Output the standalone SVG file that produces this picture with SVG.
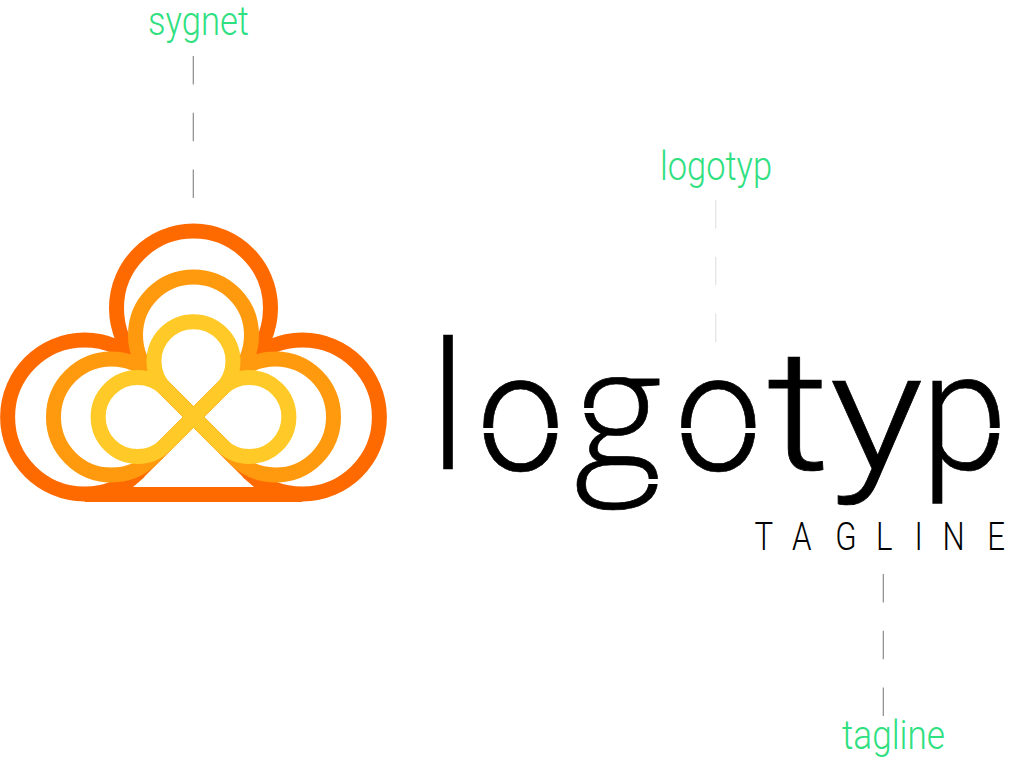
<svg xmlns="http://www.w3.org/2000/svg" width="1024" height="760" viewBox="0 0 1024 760">
<style>
.lab{font-family:"Roboto","Liberation Sans",sans-serif;font-weight:300;font-size:40px;fill:#2ee07f}
.ring{fill:none;stroke-width:15;stroke-linejoin:round}
.dash{stroke:#8a8a8a;stroke-width:1.2;stroke-dasharray:28.5 28.3;fill:none}
.big{font-family:"Roboto","Liberation Sans",sans-serif;font-weight:300;font-size:168px;fill:#000;stroke:#000;stroke-width:.7}
.tag{font-family:"Roboto","Liberation Sans",sans-serif;font-weight:300;font-size:39px;fill:#000}
.cut{fill:#fff}
</style>
<g id="connectors">
<path class="dash" d="M193.3 56V198"/>
<path class="dash" d="M715.7 200V342" style="stroke:#e6e6e6;stroke-width:1.4"/>
<path class="dash" d="M883.3 574V716"/>
</g>
<g id="sygnet">
<path fill="#ff6a00" d="M85 502H302V487H85Z"/>
<path fill="#ff6a00" d="M144.75 476.75L133 487H108L128 474Z"/>
<path fill="#ff6a00" d="M242.25 476.75L254 487H279L259 474Z"/>
<path class="ring" stroke="#ff6a00" d="M139.25 362.75A77 77 0 1 0 139.25 471.25L247.75 362.75A77 77 0 1 0 139.25 362.75L247.75 471.25A77 77 0 1 0 247.75 362.75"/>
<path class="ring" stroke="#ff9a0e" d="M152.25 375.75A58 58 0 1 0 152.25 458.25L234.75 375.75A58 58 0 1 0 152.25 375.75L234.75 458.25A58 58 0 1 0 234.75 375.75"/>
<path class="ring" stroke="#ffca28" d="M165.75 389.25A39.5 39.5 0 1 0 165.75 444.75L221.25 389.25A39.5 39.5 0 1 0 165.75 389.25L221.25 444.75A39.5 39.5 0 1 0 221.25 389.25"/>
</g>
<g id="logotype">
<text class="big" transform="translate(431 469) scale(.9 1.055)">l</text>
<text class="big" transform="translate(476.8 470) scale(.93 1)">o</text>
<text class="big" transform="translate(574 469)" style="font-family:'Open Sans','Roboto',sans-serif;font-size:170px">g</text>
<text class="big" transform="translate(674.5 470) scale(.93 1)">o</text>
<text class="big" transform="translate(766.8 469) scale(1.17 1)">t</text>
<text class="big" transform="translate(829.3 469) scale(1.18 1)">y</text>
<text class="big" transform="translate(921 469) scale(.93 1)">p</text>
<rect class="cut" x="480" y="428" width="82" height="5"/>
<rect class="cut" x="678" y="428" width="80" height="5"/>
<rect class="cut" x="985" y="428" width="20" height="5"/>
<rect class="cut" x="576" y="408" width="18" height="5"/>
<rect class="cut" x="646" y="479" width="18" height="5"/>
</g>
<g id="tagline">
<text class="tag" transform="scale(0.8 1)" y="550"><tspan x="943">T</tspan><tspan x="990">A</tspan><tspan x="1044">G</tspan><tspan x="1095">L</tspan><tspan x="1143">I</tspan><tspan x="1178">N</tspan><tspan x="1234">E</tspan></text>
</g>
<g id="labels">
<text class="lab" x="148" y="35" textLength="101" lengthAdjust="spacingAndGlyphs">sygnet</text>
<text class="lab" x="660" y="180" textLength="112" lengthAdjust="spacingAndGlyphs">logotyp</text>
<text class="lab" x="842" y="749" textLength="103" lengthAdjust="spacingAndGlyphs">tagline</text>
</g>
</svg>
